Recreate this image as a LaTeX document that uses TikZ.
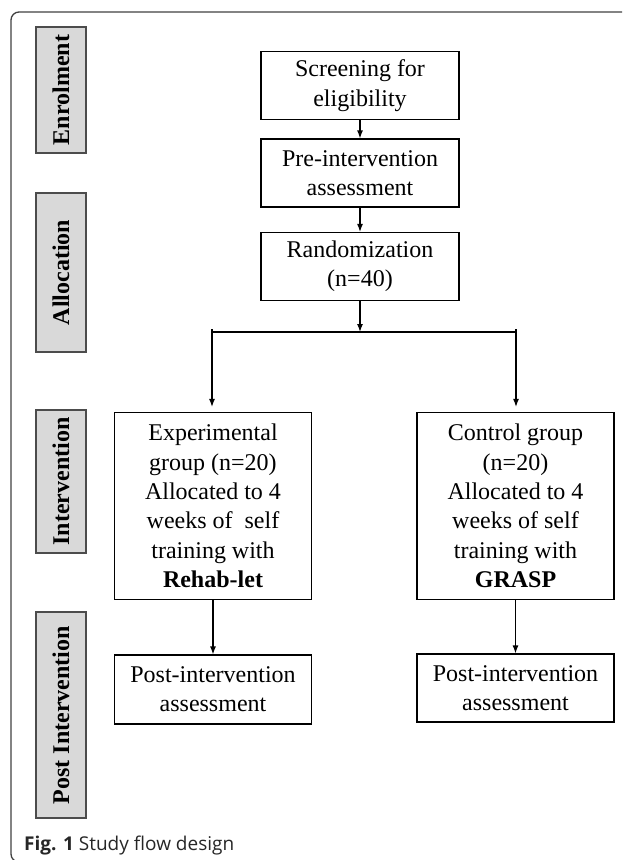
\documentclass[tikz,border=0pt]{standalone}
\usepackage{fontspec}
\setmainfont{Liberation Serif}
\newfontfamily\capfont{Open Sans}
\usetikzlibrary{arrows.meta}

\begin{document}
\begin{tikzpicture}[x=1pt,y=-1pt,
  box/.style={rectangle,draw,line width=1.2pt,align=center,inner sep=0pt,font=\fontsize{24}{29.3}\selectfont},
  stage/.style={rectangle,draw=black!70,line width=1.6pt,fill=black!15,rotate=90,inner sep=0pt,minimum height=50pt,font=\fontsize{24}{29}\selectfont\bfseries},
  arr/.style={-{Latex[length=8pt,width=6pt]},line width=1.2pt}]
\useasboundingbox (0,0) rectangle (622,860);

\draw[black!75,line width=1.3pt,rounded corners=8pt] (622,12) -- (11,12) -- (11,862) -- (30,862);

\node[stage,minimum width=126pt] (en) at (61,90){Enrolment};
\node[stage,minimum width=159pt] (al) at (61,272.5){Allocation};
\node[stage,minimum width=143pt] (in) at (61,481.5){Intervention};
\node[stage,minimum width=206pt] (po) at (61,715){Post Intervention};

\node[box,minimum width=198pt,minimum height=68pt] (s) at (360,85.5){Screening for\\eligibility};
\node[box,minimum width=198pt,minimum height=68pt] (p) at (360,173){Pre-intervention\\assessment};
\node[box,minimum width=198pt,minimum height=68pt] (r) at (360,266.5){Randomization\\(n=40)};

\node[box,minimum width=197pt,minimum height=187pt] (e) at (213,506){Experimental\\group (n=20)\\Allocated to 4\\weeks of\ \ self\\training with\\\textbf{Rehab-let}};
\node[box,minimum width=197pt,minimum height=187pt] (c) at (515.5,506){Control group\\(n=20)\\Allocated to 4\\weeks of self\\training with\\\textbf{GRASP}};

\node[box,minimum width=197pt,minimum height=69pt] (pe) at (213,689.5){Post-intervention\\assessment};
\node[box,minimum width=197pt,minimum height=68pt] (pc) at (515.5,688){Post-intervention\\assessment};

\coordinate (j) at (360,332);
\coordinate (jl) at (212,329);
\coordinate (jr) at (516,329);

\draw[arr](s) -- (p);
\draw[arr](p) -- (r);
\draw[arr](r) -- (j);
\draw[line width=1.2pt](jl |- j) -- (jr |- j);
\draw[arr,shorten >=5pt](jl) -- (jl |- e.north);
\draw[arr,shorten >=5pt](jr) -- (jr |- c.north);
\draw[arr](e) -- (pe);
\draw[arr](c) -- (pc);

\node[anchor=base west,inner sep=0pt,text=black!85,font=\capfont\fontsize{19}{22}\selectfont] (cap) at (24,850){\textbf{Fig. 1} Study flow design};

\end{tikzpicture}
\end{document}
